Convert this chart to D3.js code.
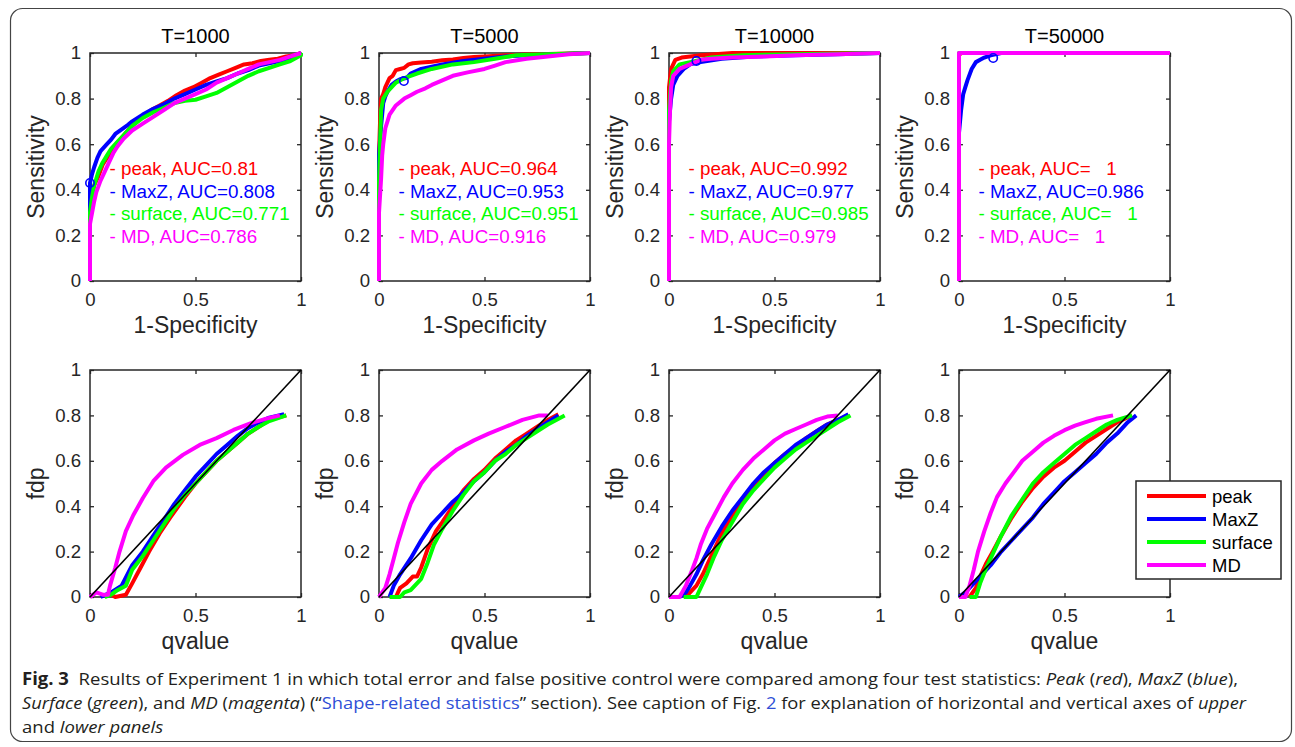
<!DOCTYPE html>
<html>
<head>
<meta charset="utf-8">
<script src="https://cdn.jsdelivr.net/npm/d3@7"></script>
<style>
  html, body { margin: 0; padding: 0; background: #fff; }
  svg text { font-family: "Liberation Sans", Arial, Helvetica, sans-serif; }
  .cap text, text.cap { font-family: "Open Sans", "Noto Sans", sans-serif; }
</style>
</head>
<body>
<svg id="fig" width="1295" height="747"></svg>
<script>
// Fig. 3: ROC curves (top row) and fdp vs qvalue (bottom row) for four statistics

const panelTitles = ["T=1000", "T=5000", "T=10000", "T=50000"];
const statNames = ["peak", "MaxZ", "surface", "MD"];

// AUC text per panel, same order as statNames
const aucText = [
  ["0.81", "0.808", "0.771", "0.786"],
  ["0.964", "0.953", "0.951", "0.916"],
  ["0.992", "0.977", "0.985", "0.979"],
  ["   1", "0.986", "   1", "   1"]
];

const xTicks = [0, 0.5, 1];
const yTicks = [0, 0.2, 0.4, 0.6, 0.8, 1];

// ROC points [1-specificity, sensitivity]
const roc_T1000 = [
  [[0,0],[0,0.3],[0.01,0.38],[0.02,0.42],[0.04,0.46],[0.06,0.51],[0.087,0.55],[0.11,0.58],[0.135,0.61],[0.17,0.65],[0.21,0.69],[0.25,0.72],[0.29,0.75],[0.33,0.77],[0.37,0.79],[0.41,0.815],[0.45,0.835],[0.49,0.85],[0.53,0.87],[0.57,0.89],[0.61,0.905],[0.65,0.92],[0.69,0.935],[0.73,0.95],[0.77,0.955],[0.81,0.965],[0.85,0.97],[0.89,0.975],[0.93,0.985],[0.97,0.99],[1,1]],
  [[0,0],[0,0.43],[0.01,0.47],[0.02,0.5],[0.035,0.54],[0.05,0.57],[0.08,0.6],[0.1,0.62],[0.12,0.645],[0.15,0.665],[0.18,0.685],[0.2,0.7],[0.25,0.73],[0.3,0.755],[0.35,0.775],[0.4,0.8],[0.45,0.82],[0.5,0.84],[0.55,0.86],[0.6,0.875],[0.65,0.89],[0.7,0.91],[0.75,0.925],[0.8,0.945],[0.85,0.955],[0.9,0.965],[0.95,0.98],[1,1]],
  [[0,0],[0,0.3],[0.01,0.37],[0.02,0.42],[0.04,0.48],[0.06,0.52],[0.08,0.55],[0.1,0.58],[0.12,0.6],[0.16,0.64],[0.2,0.68],[0.25,0.715],[0.3,0.74],[0.35,0.76],[0.4,0.78],[0.45,0.79],[0.5,0.795],[0.55,0.81],[0.6,0.825],[0.65,0.85],[0.7,0.875],[0.75,0.9],[0.8,0.92],[0.85,0.935],[0.9,0.95],[0.95,0.965],[1,0.99],[1,1]],
  [[0,0],[0,0.25],[0.01,0.3],[0.02,0.35],[0.03,0.39],[0.05,0.44],[0.07,0.48],[0.09,0.52],[0.11,0.56],[0.13,0.59],[0.16,0.625],[0.2,0.66],[0.25,0.69],[0.3,0.72],[0.35,0.75],[0.4,0.78],[0.45,0.8],[0.5,0.82],[0.55,0.84],[0.6,0.87],[0.65,0.89],[0.7,0.91],[0.75,0.93],[0.8,0.95],[0.85,0.96],[0.9,0.97],[0.95,0.985],[1,1]]
];
const roc_T5000 = [
  [[0,0],[0,0.55],[0.005,0.7],[0.01,0.8],[0.02,0.82],[0.03,0.85],[0.04,0.87],[0.05,0.89],[0.065,0.9],[0.08,0.925],[0.1,0.93],[0.12,0.935],[0.14,0.95],[0.16,0.955],[0.2,0.958],[0.25,0.962],[0.3,0.968],[0.35,0.972],[0.4,0.978],[0.45,0.982],[0.5,0.985],[0.6,0.99],[0.7,0.993],[0.8,0.996],[0.9,0.998],[1,1]],
  [[0,0],[0,0.55],[0.005,0.62],[0.01,0.68],[0.02,0.78],[0.03,0.81],[0.04,0.83],[0.06,0.86],[0.08,0.875],[0.1,0.885],[0.13,0.89],[0.15,0.91],[0.2,0.93],[0.25,0.94],[0.3,0.95],[0.4,0.965],[0.5,0.975],[0.6,0.985],[0.7,0.99],[0.85,0.995],[1,1]],
  [[0,0],[0,0.43],[0.005,0.6],[0.01,0.75],[0.02,0.8],[0.04,0.83],[0.06,0.85],[0.08,0.87],[0.12,0.89],[0.18,0.91],[0.25,0.93],[0.35,0.95],[0.45,0.96],[0.55,0.975],[0.65,0.99],[0.8,0.995],[1,1]],
  [[0,0],[0,0.3],[0.01,0.45],[0.015,0.55],[0.02,0.6],[0.03,0.67],[0.05,0.73],[0.08,0.77],[0.12,0.8],[0.15,0.815],[0.18,0.83],[0.22,0.845],[0.25,0.86],[0.3,0.88],[0.35,0.9],[0.42,0.915],[0.5,0.93],[0.55,0.945],[0.6,0.96],[0.7,0.975],[0.8,0.985],[0.9,0.995],[1,1]]
];
const roc_T10000 = [
  [[0,0],[0,0.85],[0.01,0.93],[0.02,0.95],[0.03,0.97],[0.06,0.98],[0.1,0.985],[0.15,0.99],[0.3,1],[1,1]],
  [[0,0],[0,0.7],[0.01,0.8],[0.02,0.86],[0.04,0.9],[0.07,0.93],[0.1,0.95],[0.15,0.96],[0.25,0.975],[0.4,0.985],[0.6,0.99],[0.8,0.995],[1,1]],
  [[0,0],[0,0.75],[0.01,0.88],[0.02,0.92],[0.05,0.95],[0.1,0.96],[0.2,0.98],[0.35,0.99],[0.6,0.995],[1,1]],
  [[0,0],[0,0.6],[0.005,0.75],[0.01,0.85],[0.02,0.9],[0.05,0.93],[0.1,0.95],[0.15,0.97],[0.2,0.975],[0.3,0.98],[0.45,0.985],[0.6,0.99],[0.8,0.995],[1,1]]
];
const roc_T50000 = [
  [[0,0],[0,0.99],[0.01,1],[1,1]],
  [[0,0],[0,0.65],[0.01,0.75],[0.02,0.82],[0.03,0.85],[0.04,0.88],[0.06,0.93],[0.08,0.96],[0.1,0.97],[0.12,0.98],[0.15,0.99],[0.2,1],[1,1]],
  [[0,0],[0,1],[1,1]],
  [[0,0],[0,1],[1,1]]
];

// blue "o" markers on the MaxZ curves
const maxzMarks = [[0, 0.43], [0.118, 0.877], [0.13, 0.965], [0.162, 0.978]];

// fdp vs qvalue points [qvalue, fdp]
const fdp_T1000 = [
  [[0.1,0.01],[0.12,0],[0.17,0.01],[0.2,0.06],[0.24,0.13],[0.28,0.2],[0.33,0.28],[0.38,0.35],[0.45,0.44],[0.5,0.5],[0.55,0.55],[0.6,0.6],[0.65,0.64],[0.7,0.68],[0.75,0.72],[0.8,0.75],[0.85,0.78],[0.93,0.8]],
  [[0.05,0],[0.1,0.02],[0.15,0.05],[0.2,0.14],[0.25,0.2],[0.3,0.27],[0.35,0.34],[0.4,0.41],[0.45,0.47],[0.5,0.53],[0.55,0.58],[0.6,0.63],[0.65,0.67],[0.7,0.71],[0.75,0.745],[0.8,0.77],[0.85,0.79],[0.92,0.805]],
  [[0.07,0],[0.1,0.01],[0.13,0.03],[0.17,0.05],[0.2,0.12],[0.25,0.18],[0.3,0.25],[0.35,0.32],[0.4,0.39],[0.45,0.45],[0.5,0.5],[0.55,0.55],[0.6,0.6],[0.65,0.64],[0.7,0.68],[0.75,0.72],[0.8,0.75],[0.85,0.775],[0.93,0.8]],
  [[0,0],[0.03,0.02],[0.06,0.01],[0.085,0.01],[0.095,0.05],[0.12,0.13],[0.14,0.2],[0.17,0.29],[0.205,0.36],[0.25,0.435],[0.3,0.51],[0.36,0.57],[0.44,0.626],[0.52,0.67],[0.6,0.7],[0.68,0.736],[0.76,0.765],[0.84,0.787],[0.9,0.8]]
];
const fdp_T5000 = [
  [[0.08,0],[0.1,0.04],[0.13,0.06],[0.16,0.09],[0.18,0.09],[0.2,0.13],[0.23,0.21],[0.27,0.29],[0.3,0.33],[0.35,0.4],[0.4,0.47],[0.45,0.52],[0.5,0.56],[0.55,0.61],[0.6,0.65],[0.65,0.69],[0.7,0.72],[0.75,0.75],[0.8,0.78],[0.85,0.805]],
  [[0.05,0],[0.07,0.05],[0.1,0.1],[0.15,0.17],[0.2,0.25],[0.25,0.32],[0.3,0.37],[0.35,0.42],[0.4,0.46],[0.45,0.51],[0.5,0.55],[0.55,0.6],[0.6,0.64],[0.65,0.67],[0.7,0.71],[0.75,0.74],[0.8,0.77],[0.85,0.8]],
  [[0.05,0],[0.1,0],[0.12,0.02],[0.15,0.03],[0.2,0.08],[0.23,0.15],[0.26,0.23],[0.3,0.3],[0.35,0.38],[0.4,0.45],[0.45,0.51],[0.5,0.55],[0.55,0.6],[0.6,0.63],[0.65,0.67],[0.7,0.7],[0.75,0.73],[0.8,0.76],[0.88,0.8]],
  [[0,0],[0.03,0.04],[0.05,0.1],[0.07,0.17],[0.09,0.24],[0.12,0.33],[0.15,0.41],[0.2,0.5],[0.25,0.56],[0.3,0.6],[0.37,0.65],[0.45,0.69],[0.52,0.72],[0.6,0.75],[0.68,0.78],[0.76,0.8],[0.8,0.8]]
];
const fdp_T10000 = [
  [[0.08,0],[0.1,0.02],[0.13,0.05],[0.16,0.1],[0.2,0.18],[0.25,0.28],[0.3,0.36],[0.35,0.43],[0.4,0.49],[0.45,0.54],[0.5,0.59],[0.55,0.63],[0.6,0.66],[0.65,0.7],[0.7,0.73],[0.75,0.76],[0.8,0.78],[0.85,0.8]],
  [[0.05,0],[0.08,0.02],[0.1,0.05],[0.13,0.1],[0.16,0.16],[0.2,0.23],[0.25,0.31],[0.3,0.38],[0.35,0.44],[0.4,0.5],[0.45,0.55],[0.5,0.59],[0.55,0.63],[0.6,0.67],[0.65,0.7],[0.7,0.73],[0.75,0.76],[0.8,0.78],[0.85,0.805]],
  [[0.07,0],[0.13,0],[0.15,0.04],[0.18,0.1],[0.21,0.17],[0.25,0.25],[0.3,0.33],[0.35,0.41],[0.4,0.47],[0.45,0.52],[0.5,0.57],[0.55,0.61],[0.6,0.65],[0.65,0.68],[0.7,0.71],[0.75,0.74],[0.8,0.77],[0.86,0.8]],
  [[0,0],[0.05,0],[0.08,0.05],[0.11,0.12],[0.13,0.17],[0.15,0.23],[0.18,0.3],[0.22,0.37],[0.26,0.44],[0.3,0.5],[0.35,0.56],[0.4,0.61],[0.45,0.65],[0.5,0.69],[0.55,0.72],[0.6,0.74],[0.65,0.76],[0.7,0.78],[0.75,0.795],[0.8,0.8]]
];
const fdp_T50000 = [
  [[0.05,0],[0.08,0.04],[0.1,0.09],[0.13,0.15],[0.16,0.2],[0.2,0.27],[0.25,0.35],[0.3,0.42],[0.35,0.48],[0.4,0.53],[0.45,0.57],[0.5,0.6],[0.55,0.64],[0.6,0.68],[0.65,0.71],[0.7,0.74],[0.75,0.77],[0.82,0.8]],
  [[0,0],[0.03,0.02],[0.06,0.05],[0.1,0.09],[0.15,0.14],[0.2,0.2],[0.25,0.25],[0.3,0.3],[0.35,0.35],[0.4,0.41],[0.45,0.46],[0.5,0.51],[0.55,0.55],[0.6,0.59],[0.65,0.63],[0.7,0.68],[0.75,0.72],[0.8,0.77],[0.84,0.8]],
  [[0.05,0],[0.08,0],[0.1,0.06],[0.13,0.13],[0.16,0.19],[0.2,0.27],[0.25,0.36],[0.3,0.43],[0.35,0.5],[0.4,0.55],[0.45,0.59],[0.5,0.63],[0.55,0.67],[0.6,0.7],[0.65,0.73],[0.7,0.76],[0.75,0.78],[0.82,0.8]],
  [[0,0],[0.03,0],[0.05,0.05],[0.07,0.12],[0.09,0.2],[0.12,0.29],[0.15,0.37],[0.18,0.44],[0.22,0.5],[0.26,0.55],[0.3,0.6],[0.35,0.64],[0.4,0.68],[0.45,0.71],[0.5,0.735],[0.55,0.755],[0.6,0.77],[0.65,0.785],[0.73,0.8]]
];

const rocData = [roc_T1000, roc_T5000, roc_T10000, roc_T50000];
const fdpData = [fdp_T1000, fdp_T5000, fdp_T10000, fdp_T50000];

// ---- layout / style ----
const colors = ["#ff0000", "#0000ff", "#00ff00", "#ff00ff"];
const ink = "#262626";
const plotLefts = [90, 379, 669, 959];
const plotW = 211;
const rows = [{ top: 53, bottom: 281 }, { top: 370, bottom: 597 }];

const svg = d3.select("#fig");

// outer frame of the figure
svg.append("rect")
  .attr("x", 10.5).attr("y", 8.5).attr("width", 1281).attr("height", 733)
  .attr("rx", 12).attr("fill", "none").attr("stroke", "#444").attr("stroke-width", 1.2);

function drawPanel(i, row, series, xLabel, yLabel, withDiagonal) {
  const L = plotLefts[i];
  const { top, bottom } = rows[row];
  const x = d3.scaleLinear().domain([0, 1]).range([L, L + plotW]);
  const y = d3.scaleLinear().domain([0, 1]).range([bottom, top]);
  const g = svg.append("g");

  const fmt = d3.format("");
  const tickStyle = sel => {
    sel.select(".domain").remove();
    sel.selectAll(".tick line").attr("stroke", ink).attr("stroke-width", 1.3);
    sel.selectAll(".tick text").attr("fill", ink)
      .style("font-size", "18.6px").style("font-family", "'Liberation Sans', Arial, sans-serif");
  };

  g.append("g").attr("transform", `translate(0,${bottom})`)
    .call(d3.axisBottom(x).tickValues(xTicks).tickFormat(fmt).tickSizeInner(-4).tickSizeOuter(0).tickPadding(12))
    .call(tickStyle);
  g.append("g").attr("transform", `translate(0,${top})`)
    .call(d3.axisTop(x).tickValues(xTicks).tickFormat("").tickSizeInner(-4).tickSizeOuter(0))
    .call(tickStyle);
  g.append("g").attr("transform", `translate(${L},0)`)
    .call(d3.axisLeft(y).tickValues(yTicks).tickFormat(fmt).tickSizeInner(-4).tickSizeOuter(0).tickPadding(9))
    .call(tickStyle);
  g.append("g").attr("transform", `translate(${L + plotW},0)`)
    .call(d3.axisRight(y).tickValues(yTicks).tickFormat("").tickSizeInner(-4).tickSizeOuter(0))
    .call(tickStyle);

  g.append("rect")
    .attr("x", L).attr("y", top).attr("width", plotW).attr("height", bottom - top)
    .attr("fill", "none").attr("stroke", ink).attr("stroke-width", 1.5);

  const line = d3.line().x(d => x(d[0])).y(d => y(d[1]));
  series.forEach((pts, k) => {
    g.append("path").datum(pts)
      .attr("d", line)
      .attr("fill", "none")
      .attr("stroke", colors[k])
      .attr("stroke-width", 4)
      .attr("stroke-linejoin", "round");
  });

  if (withDiagonal) {
    g.append("path").datum([[0, 0], [1, 1]])
      .attr("d", line).attr("stroke", "#000").attr("stroke-width", 1.6).attr("fill", "none");
  }

  // axis labels
  g.append("text")
    .attr("x", L + plotW / 2).attr("y", bottom + 52)
    .attr("text-anchor", "middle").attr("fill", ink)
    .style("font-size", "23px").text(xLabel);
  g.append("text")
    .attr("transform", `translate(${L - 46},${(top + bottom) / 2}) rotate(-90)`)
    .attr("text-anchor", "middle").attr("fill", ink)
    .style("font-size", "23px").text(yLabel);

  return { g, x, y };
}

// top row: ROC
rocData.forEach((series, i) => {
  const { g, x, y } = drawPanel(i, 0, series, "1-Specificity", "Sensitivity", false);

  g.append("text")
    .attr("x", plotLefts[i] + plotW / 2).attr("y", 43)
    .attr("text-anchor", "middle").attr("fill", "#000")
    .style("font-size", "20px").text(panelTitles[i]);

  const m = maxzMarks[i];
  g.append("circle")
    .attr("cx", x(m[0])).attr("cy", y(m[1])).attr("r", 4.2)
    .attr("fill", "none").attr("stroke", colors[1]).attr("stroke-width", 1.6);

  statNames.forEach((name, k) => {
    g.append("text")
      .attr("x", plotLefts[i] + 19.5)
      .attr("y", 175 + k * 22.6)
      .attr("fill", colors[k])
      .style("font-size", "18.8px")
      .style("white-space", "pre")
      .text(`- ${name}, AUC=${aucText[i][k]}`);
  });
});

// bottom row: fdp vs qvalue
fdpData.forEach((series, i) => {
  drawPanel(i, 1, series, "qvalue", "fdp", true);
});

// legend in the last bottom panel
const lg = svg.append("g");
lg.append("rect")
  .attr("x", 1136).attr("y", 481).attr("width", 145).attr("height", 98)
  .attr("fill", "#fff").attr("stroke", ink).attr("stroke-width", 1.5);
statNames.forEach((name, k) => {
  const cy = 496 + k * 23;
  lg.append("line")
    .attr("x1", 1147).attr("x2", 1206).attr("y1", cy).attr("y2", cy)
    .attr("stroke", colors[k]).attr("stroke-width", 4);
  lg.append("text")
    .attr("x", 1212).attr("y", cy + 6.5)
    .attr("fill", "#000").style("font-size", "18.5px").text(name);
});

// ---- caption ----
const linkBlue = "#2f4fd6";
const capLines = [
  [["Fig. 3", "b"], ["  Results of Experiment 1 in which total error and false positive control were compared among four test statistics: ", ""],
   ["Peak", "i"], [" (", ""], ["red", "i"], ["), ", ""], ["MaxZ", "i"], [" (", ""], ["blue", "i"], ["),", ""]],
  [["Surface", "i"], [" (", ""], ["green", "i"], ["), and ", ""], ["MD", "i"], [" (", ""], ["magenta", "i"], [") (\u201c", ""],
   ["Shape-related statistics", "a"], ["\u201d section). See caption of Fig. ", ""], ["2", "a"],
   [" for explanation of horizontal and vertical axes of ", ""], ["upper", "i"]],
  [["and ", ""], ["lower panels", "i"]]
];
const capY = [685, 709, 733];
const capTargets = [1216, 1224, null];

const capG = svg.append("g").attr("class", "cap");
const capNodes = capLines.map((parts, li) => {
  const t = capG.append("text")
    .attr("x", 22).attr("y", capY[li])
    .attr("fill", "#231f20")
    .style("font-size", "17.2px")
    .style("white-space", "pre");
  parts.forEach(([s, kind]) => {
    const ts = t.append("tspan").text(s);
    if (kind === "b") ts.style("font-weight", "700");
    if (kind === "i") ts.style("font-style", "italic");
    if (kind === "a") ts.attr("fill", linkBlue);
  });
  return t;
});
const natural = capNodes.map(t => t.node().getComputedTextLength());
const squeeze = capTargets[0] / natural[0];
capNodes.forEach((t, li) => {
  const len = capTargets[li] || natural[li] * squeeze;
  t.attr("textLength", len).attr("lengthAdjust", "spacingAndGlyphs");
});
</script>
</body>
</html>
